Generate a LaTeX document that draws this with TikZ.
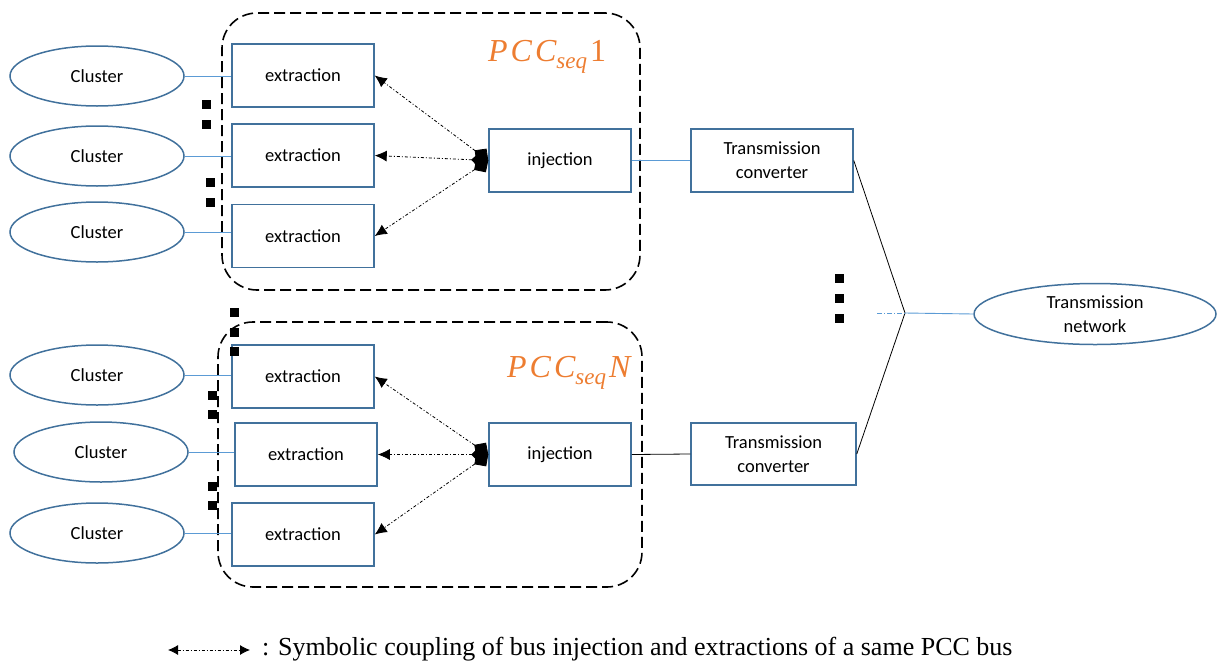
\documentclass[tikz,border=0pt]{standalone}
\usepackage{fontspec}
\setmainfont{Carlito}
\newfontfamily\legendfont{Liberation Serif}
\usetikzlibrary{shapes.geometric,arrows.meta}
\definecolor{boxblue}{RGB}{65,113,156}
\definecolor{lineblue}{RGB}{91,155,213}
\definecolor{pccorange}{RGB}{237,125,49}
\newcommand{\pcclabel}[1]{{\legendfont\itshape P\kern3pt C\kern3pt C\raisebox{-7pt}{\fontsize{23}{26}\selectfont seq}\kern3pt#1}}
\tikzset{
  cluster/.style={ellipse,draw=boxblue,line width=1.5pt,minimum width=174pt,minimum height=60pt,inner sep=0pt,font=\fontsize{18.5}{22}\selectfont},
  blk/.style={rectangle,draw=boxblue,line width=1.5pt,minimum width=142pt,minimum height=63pt,inner sep=0pt,align=center,font=\fontsize{18.5}{24}\selectfont},
  grp/.style={rectangle,draw=black,line width=1.6pt,dash pattern=on 11pt off 5pt,rounded corners=35pt,inner sep=0pt},
  bl/.style={draw=lineblue,line width=0.9pt},
  cpl/.style={draw=black,line width=0.8pt,dash pattern=on 3pt off 2pt on 1pt off 2pt,{Diamond[length=17pt,width=17pt]}-{Latex[length=12pt,width=11pt]}},
  sq/.style={fill=black,minimum size=9pt,inner sep=0pt,rectangle},
  pcc/.style={text=pccorange,font=\fontsize{32}{38}\selectfont,inner sep=0pt}
}
\begin{document}
\begin{tikzpicture}[x=1pt,y=-1pt]
\useasboundingbox (0,0) rectangle (1217,664);
% groups
\node[grp,minimum width=418pt,minimum height=277pt] (g1) at (431,151.5) {};
\node[grp,minimum width=424pt,minimum height=265pt] (g2) at (430,454.5) {};
\node[pcc,anchor=base west] (p1) at (488,61) {\pcclabel{\upshape 1}};
\node[pcc,anchor=base west] (p2) at (507,377) {\pcclabel{N}};
% clusters
\node[cluster] (c1) at (97,76) {Cluster};
\node[cluster] (c2) at (97,156) {Cluster};
\node[cluster] (c3) at (97,232) {Cluster};
\node[cluster] (c4) at (97,375) {Cluster};
\node[cluster] (c5) at (101,452) {Cluster};
\node[cluster] (c6) at (97,533) {Cluster};
% extraction
\node[blk] (e1) at (303,75.5) {extraction};
\node[blk] (e2) at (303,155.5) {extraction};
\node[blk] (e3) at (303,236) {extraction};
\node[blk] (e4) at (303,376.5) {extraction};
\node[blk] (e5) at (306,454.5) {extraction};
\node[blk] (e6) at (303,534.5) {extraction};
% injection
\node[blk] (i1) at (560,160.5) {injection};
\node[blk] (i2) at (560,454.5) {injection};
% converters
\node[blk,minimum width=162pt] (t1) at (772,160.5) {Transmission\\converter};
\node[blk,minimum width=165pt,minimum height=62pt] (t2) at (773.5,454) {Transmission\\converter};
\node[ellipse,draw=boxblue,line width=1.5pt,minimum width=242pt,minimum height=61pt,inner sep=0pt,align=center,font=\fontsize{18.5}{24}\selectfont] (net) at (1095,314) {Transmission\\network};
% cluster links
\foreach \k in {1,...,6}{\draw[bl] (c\k.east) -- (c\k.east -| e\k.west);}
\draw[bl] (i1.east) -- (t1.west);
\draw[black,line width=0.8pt] (i2.east) -- (t2.west);
% junction
\coordinate (J) at (905,313);
\coordinate (Jd) at (877,313);
\draw[black,line width=0.8pt] (t1.east) -- (J) -- (t2.east);
\draw[bl] (J) -- (net.west);
\draw[draw=lineblue,line width=0.9pt,dash pattern=on 5pt off 2pt on 1pt off 2pt] (Jd) -- (J);
% coupling arrows
\foreach \k in {1,2,3}{\draw[cpl] (i1.west) -- (e\k.east);}
\foreach \k in {4,5,6}{\draw[cpl] (i2.west) -- (e\k.east);}
% dots
\node[sq] (d1) at (206,104) {};
\node[sq] (d2) at (206,124) {};
\node[sq] (d3) at (210,182) {};
\node[sq] (d4) at (210,202) {};
\node[sq] (d5) at (234,312) {};
\node[sq] (d6) at (234,332) {};
\node[sq] (d7) at (234,351) {};
\node[sq] (d8) at (212,395) {};
\node[sq] (d9) at (212,414) {};
\node[sq] (d10) at (212,486) {};
\node[sq] (d11) at (212,505) {};
\node[sq] (d12) at (839,278) {};
\node[sq] (d13) at (839,298) {};
\node[sq] (d14) at (839,318) {};
% legend
\coordinate (la) at (168,650);
\coordinate (lb) at (250,650);
\draw[black,line width=0.8pt,dash pattern=on 3pt off 2pt on 1pt off 2pt,{Latex[length=10pt,width=10pt]}-{Latex[length=10pt,width=10pt]}] (la) -- (lb);
\node[anchor=west,inner sep=0pt,font=\legendfont\fontsize{26}{30}\selectfont] (leg) at (262,649) {: Symbolic coupling of bus injection and extractions of a same PCC bus};
\end{tikzpicture}
\end{document}
